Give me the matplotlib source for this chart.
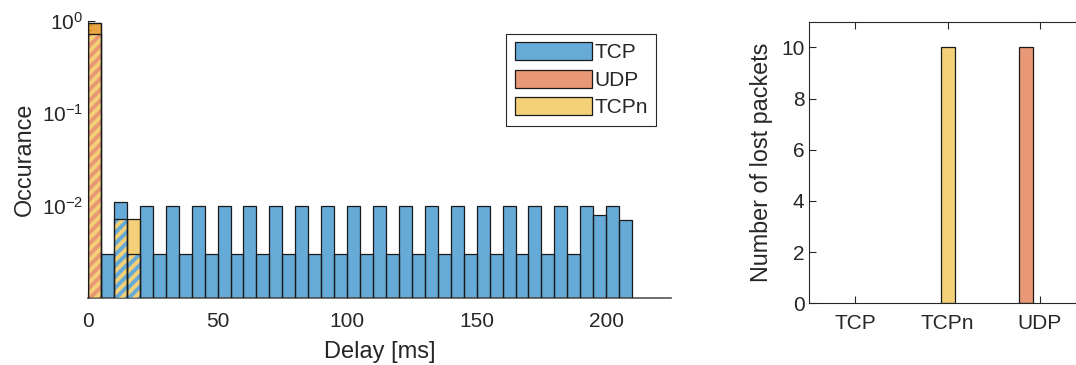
import numpy as np
import matplotlib
matplotlib.use("Agg")
import matplotlib.pyplot as plt
from matplotlib.patches import Patch
from matplotlib.lines import Line2D
from matplotlib.transforms import IdentityTransform
from matplotlib.ticker import LogLocator, NullFormatter

plt.rcParams['font.family'] = ['Liberation Sans', 'DejaVu Sans']
plt.rcParams['mathtext.default'] = 'regular'

# ---------------- data ----------------
bin_edges = np.arange(0, 211, 5)  # 42 bins of 5 ms, 0..210 ms

tcp_occ = [0.72, 0.003, 0.011, 0.003,
           0.01, 0.003, 0.01, 0.003, 0.01, 0.003, 0.01, 0.003, 0.01, 0.003,
           0.01, 0.003, 0.01, 0.003, 0.01, 0.003, 0.01, 0.003, 0.01, 0.003,
           0.01, 0.003, 0.01, 0.003, 0.01, 0.003, 0.01, 0.003, 0.01, 0.003,
           0.01, 0.003, 0.01, 0.003, 0.01, 0.0079, 0.01, 0.0070]
udp_occ = [0.96] + [0.0] * 41
tcpn_occ = [0.96, 0.0, 0.0071, 0.0071] + [0.0] * 38

series_names = ['TCP', 'UDP', 'TCPn']

loss_categories = ['TCP', 'TCPn', 'UDP']
lost_packets = [0, 10, 10]

# ---------------- styles ----------------
base = {'TCP': (0.0, 0.447, 0.741), 'UDP': (0.85, 0.325, 0.098), 'TCPn': (0.929, 0.694, 0.125)}
alpha = 0.6
def blend(c):
    return tuple(alpha * v + (1 - alpha) for v in c)
flat = {k: blend(v) for k, v in base.items()}
edge_col = '#1a1a1a'
axis_col = '#262626'
txt_col = '#262626'

fig = plt.figure(figsize=(10.76, 3.65), dpi=100)

# ---------------- left: delay histogram ----------------
ax = fig.add_axes([88 / 1076, 67 / 365, 583 / 1076, 277 / 365])
ax.set_yscale('log')
ymin = 1e-3
ax.set_xlim(0, 225)
ax.set_ylim(ymin, 1)
lefts = bin_edges[:-1]
widths = np.diff(bin_edges)
data = {'TCP': np.array(tcp_occ), 'UDP': np.array(udp_occ), 'TCPn': np.array(tcpn_occ)}

# filled, alpha-layered histograms (MATLAB-like)
for name in series_names:
    v = data[name]
    m = v > 0
    ax.bar(lefts[m], v[m] - ymin, width=widths[m], bottom=ymin, align='edge',
           color=base[name] + (alpha,), linewidth=0, zorder=2)

# striped overlap regions
stripe_regions = []
for i in range(len(lefts)):
    present = [data[n][i] for n in series_names if data[n][i] > 0]
    if data['TCPn'][i] > 0 and len(present) >= 2:
        top = min(present)
        other = flat['UDP'] if data['UDP'][i] > 0 else flat['TCP']
        bars = ax.bar(lefts[i], top - ymin, width=widths[i], bottom=ymin, align='edge',
                      color=flat['TCPn'], linewidth=0, zorder=3)
        stripe_regions.append((bars[0], other))

# outlines
for name in series_names:
    v = data[name]
    m = v > 0
    ax.bar(lefts[m], v[m] - ymin, width=widths[m], bottom=ymin, align='edge',
           facecolor='none', edgecolor=edge_col, linewidth=0.9, zorder=5)

ax.set_yticks([1e-2, 1e-1, 1])
ax.yaxis.set_minor_locator(LogLocator(base=10, subs=np.arange(2, 10)))
ax.yaxis.set_minor_formatter(NullFormatter())
ax.set_xticks([0, 50, 100, 150, 200])
for s in ['top', 'right']:
    ax.spines[s].set_visible(False)
ax.spines['left'].set_color(axis_col)
ax.spines['bottom'].set_color('#555555')
ax.spines['bottom'].set_linewidth(1.2)
ax.tick_params(which='both', direction='in', colors=axis_col, labelsize=15,
               labelcolor=txt_col)
ax.tick_params(which='major', length=5, width=0.8)
ax.tick_params(which='minor', length=3, width=0.6)
ax.tick_params(axis='x', pad=10)
ax.set_xlabel('Delay [ms]', fontsize=17, color=txt_col, labelpad=7)
ax.set_ylabel('Occurance', fontsize=16.8, color=txt_col, labelpad=4)

handles = [Patch(facecolor=flat[n], edgecolor=edge_col, linewidth=0.9, label=n) for n in series_names]
leg = ax.legend(handles=handles, loc='upper right', bbox_to_anchor=(1 - 15 / 583, 1 - 13 / 277),
                borderaxespad=0, fontsize=15, fancybox=False, framealpha=1,
                edgecolor=axis_col, handlelength=3.7, handleheight=0.95,
                handletextpad=0.12, labelspacing=0.35, borderpad=0.4)
leg.get_frame().set_linewidth(0.8)
for t in leg.get_texts():
    t.set_color(txt_col)

# draw diagonal stripes in pixel space, clipped to each overlap bar
period = 11.0  # vertical period in pixels
lw_pt = period / np.sqrt(2) / 2 * 72 / fig.dpi
for patch, col in stripe_regions:
    x0, y0 = patch.get_x(), patch.get_y()
    x1, y1 = x0 + patch.get_width(), y0 + patch.get_height()
    (px0, py0), (px1, py1) = ax.transData.transform([(x0, y0), (x1, y1)])
    w = px1 - px0
    c = py0 - w - period
    while c < py1 + period:
        ln = Line2D([px0 - 2, px1 + 2], [c - 2, c + w + 2], color=col, linewidth=lw_pt,
                    transform=IdentityTransform(), zorder=4, solid_capstyle='butt')
        ax.add_line(ln)
        ln.set_clip_path(patch)
        c += period

# ---------------- right: lost packets ----------------
ax2 = fig.add_axes([809.3 / 1076, 61.7 / 365, 276.6 / 1076, 281.6 / 365])
xpos = np.arange(1, len(loss_categories) + 1)
bar_offset = {'TCP': 0.0, 'TCPn': 0.0, 'UDP': -0.15}
bar_color = {'TCP': flat['TCP'], 'TCPn': flat['TCPn'], 'UDP': flat['UDP']}
for x, cat, val in zip(xpos, loss_categories, lost_packets):
    if val > 0:
        ax2.bar(x + bar_offset[cat], val, width=0.15, color=bar_color[cat],
                edgecolor=edge_col, linewidth=0.9, zorder=2)
ax2.set_xlim(0.5, 3.5)
ax2.set_ylim(0, 11)
ax2.set_yticks([0, 2, 4, 6, 8, 10])
ax2.set_xticks(xpos)
ax2.set_xticklabels(loss_categories)
for s in ax2.spines.values():
    s.set_color(axis_col)
ax2.tick_params(which='both', direction='in', top=True, right=True, colors=axis_col,
                labelsize=15, labelcolor=txt_col, length=5, width=0.8)
ax2.tick_params(axis='x', pad=8)
ax2.set_ylabel('Number of lost packets', fontsize=16.8, color=txt_col, labelpad=6)

fig.savefig('out.png', dpi=100)
